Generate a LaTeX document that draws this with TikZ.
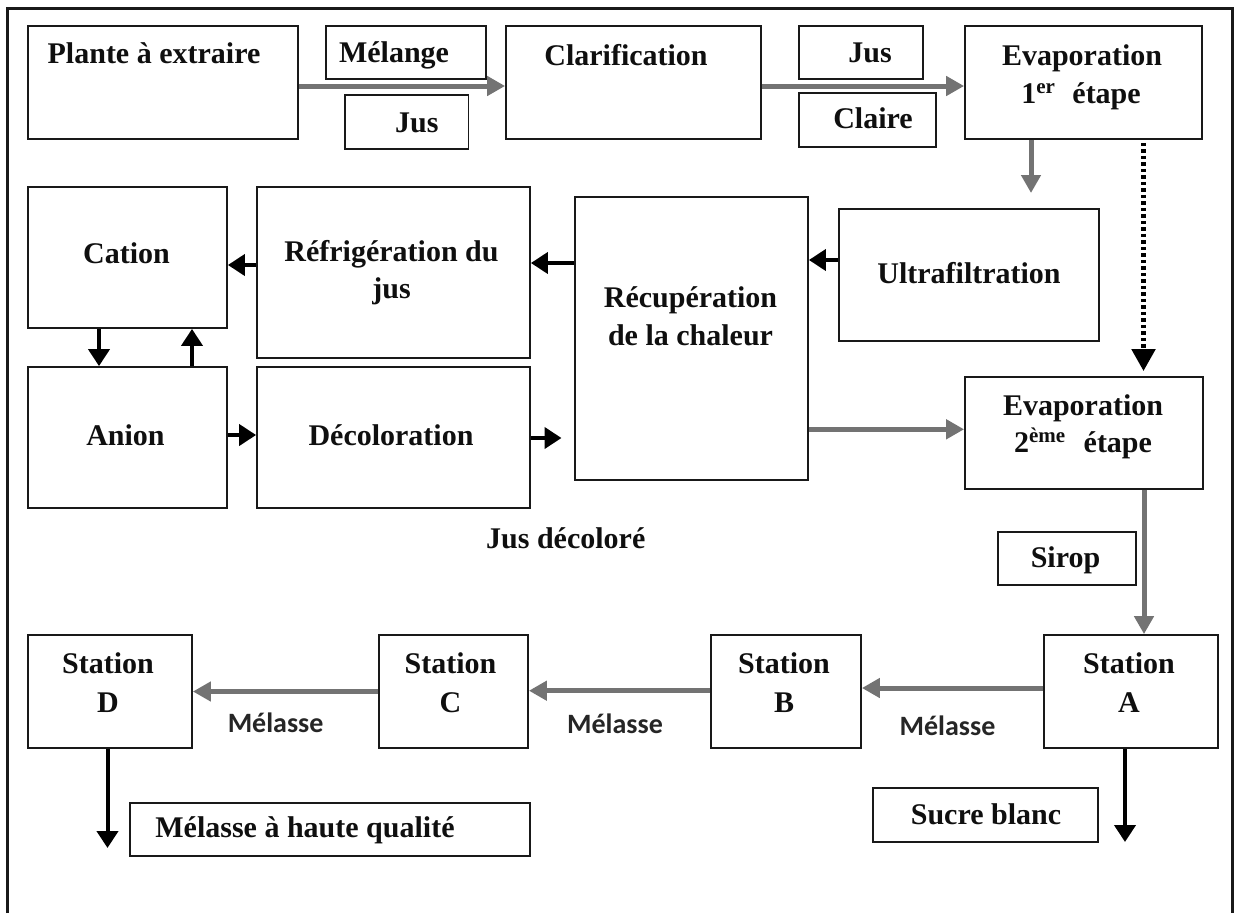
\documentclass[tikz,border=0pt]{standalone}
\usepackage{fontspec}
\setmainfont{Liberation Serif}
\newfontfamily\labelsans{Carlito}
\usetikzlibrary{arrows.meta}
\definecolor{boxline}{gray}{0.1}
\definecolor{flowgray}{gray}{0.45}
\definecolor{inkblack}{gray}{0.06}
\begin{document}
\begin{tikzpicture}[x=1pt,y=-1pt,
  box/.style={draw=boxline, line width=1.8pt, inner sep=0pt, fill=white},
  % zero-height text boxes: the anchor sits on the baseline
  txt/.style={font=\fontsize{30}{36}\selectfont\bfseries, text=inkblack, inner sep=0pt,
    text height=0pt, text depth=0pt},
  side/.style={font=\fontsize{28}{34}\selectfont\labelsans\bfseries, text=black!85, anchor=base, inner sep=0pt},
  garrow/.style={draw=flowgray, line width=5pt, -{Triangle[length=18pt,width=19pt]}},
  barrow/.style={draw=black, line width=4pt, -{Triangle[length=17pt,width=21pt]}},
  darrow/.style={draw=black, line width=5pt, dash pattern=on 3.5pt off 3pt, -{Triangle[length=22pt,width=23pt]}},
]
\fill[white] (0,0) rectangle (1238,913);
\useasboundingbox (0,0) rectangle (1238,913);

% outer frame
\draw[line width=3pt, boxline] (7,913) -- (7,8) -- (1232,8) -- (1232,913);

% top row
\node[box, minimum width=270, minimum height=113,
  label={[txt,xshift=-9pt,yshift=19.5pt]center:Plante à extraire}] (plante) at (163,82.5) {};
\node[box, minimum width=160, minimum height=53,
  label={[txt,xshift=-12pt,yshift=-9.5pt]center:Mélange}] (melange) at (406,52.5) {};
\node[box, minimum width=123.5, minimum height=54,
  label={[txt,xshift=10pt,yshift=-10pt]center:Jus}] (jusA) at (406.75,122) {};
\node[box, minimum width=255, minimum height=113,
  label={[txt,xshift=-7.5pt,yshift=17.5pt]center:Clarification}] (clarif) at (633.5,82.5) {};
\node[box, minimum width=124, minimum height=53,
  label={[txt,xshift=9pt,yshift=-9.5pt]center:Jus}] (jusB) at (861,52.5) {};
\node[box, minimum width=136.6, minimum height=54,
  label={[txt,xshift=5.7pt,yshift=-8pt]center:Claire}] (claire) at (867.3,120) {};
\node[box, minimum width=237, minimum height=113,
  label={[txt,xshift=-1.5pt,yshift=17.5pt]center:Evaporation},
  label={[txt,xshift=-2.5pt,yshift=-20.5pt]center:1\textsuperscript{er}\hspace{17pt}étape}] (evapA) at (1083.5,82.5) {};

% middle rows
\node[box, minimum width=199, minimum height=141,
  label={[txt,xshift=-1pt,yshift=-5.8pt]center:Cation}] (cation) at (127.5,257.5) {};
\node[box, minimum width=273, minimum height=171,
  label={[txt,xshift=-2pt,yshift=10.8pt]center:Réfrigération du},
  label={[txt,xshift=-2pt,yshift=-25.5pt]center:jus}] (refrig) at (393.5,272.5) {};
\node[box, minimum width=233, minimum height=283,
  label={[txt,xshift=-1pt,yshift=31.5pt]center:Récupération},
  label={[txt,xshift=-1pt,yshift=-6.5pt]center:de la chaleur}] (recup) at (691.5,338.5) {};
\node[box, minimum width=260, minimum height=132,
  label={[txt,yshift=-8pt]center:Ultrafiltration}] (ultra) at (969,275) {};
\node[box, minimum width=199, minimum height=141,
  label={[txt,xshift=-2pt,yshift=-7.5pt]center:Anion}] (anion) at (127.5,437.5) {};
\node[box, minimum width=273, minimum height=141,
  label={[txt,xshift=-2.5pt,yshift=-7.5pt]center:Décoloration}] (decol) at (393.5,437.5) {};
\node[box, minimum width=238, minimum height=112,
  label={[txt,xshift=-1pt,yshift=18pt]center:Evaporation},
  label={[txt,xshift=-1pt,yshift=-19pt]center:2\textsuperscript{ème}\hspace{18pt}étape}] (evapB) at (1084,433) {};
\node[txt, anchor=west] (jusdec) at (486,548) {Jus décoloré};
\node[box, minimum width=138, minimum height=53,
  label={[txt,xshift=-1.5pt,yshift=-8.5pt]center:Sirop}] (sirop) at (1067,558.5) {};

% stations
\node[box, minimum width=174, minimum height=113,
  label={[txt,xshift=-2pt,yshift=18.5pt]center:Station},
  label={[txt,xshift=-2pt,yshift=-20.5pt]center:A}] (stA) at (1131,691.5) {};
\node[box, minimum width=150, minimum height=113,
  label={[txt,xshift=-2pt,yshift=18.5pt]center:Station},
  label={[txt,xshift=-2pt,yshift=-20.5pt]center:B}] (stB) at (786,691.5) {};
\node[box, minimum width=149, minimum height=113,
  label={[txt,xshift=-3pt,yshift=18.5pt]center:Station},
  label={[txt,xshift=-3pt,yshift=-20.5pt]center:C}] (stC) at (453.5,691.5) {};
\node[box, minimum width=164, minimum height=113,
  label={[txt,xshift=-2pt,yshift=18.5pt]center:Station},
  label={[txt,xshift=-2pt,yshift=-20.5pt]center:D}] (stD) at (110,691.5) {};

\node[side] (melAB) at (947.5,735) {Mélasse};
\node[side] (melBC) at (615,733) {Mélasse};
\node[side] (melCD) at (275.6,732) {Mélasse};

% products
\node[box, minimum width=400, minimum height=53,
  label={[txt,xshift=-25pt,yshift=-7.5pt]center:Mélasse à haute qualité}] (haute) at (330,829.5) {};
\node[box, minimum width=225, minimum height=54,
  label={[txt,xshift=0.5pt,yshift=-9pt]center:Sucre blanc}] (sucre) at (985.5,815) {};

% free ends of open arrows
\coordinate (ufin) at (1031,193);
\coordinate (dfin) at (561.5,438);
\coordinate (hqfin) at (107.5,848);
\coordinate (sbfin) at (1125,842);

% flows
\draw[garrow] ([yshift=-3.5pt]plante.east) -- ([yshift=-3.5pt]clarif.west);
\draw[garrow] ([yshift=-3.5pt]clarif.east) -- ([yshift=-3.5pt]evapA.west);
\draw[garrow] ([xshift=-52.5pt]evapA.south) -- (ufin);
\draw[darrow, shorten <=3pt, shorten >=5pt] ([xshift=60pt]evapA.south) -- ([xshift=59.5pt]evapB.north);

\draw[barrow] ([yshift=15pt]ultra.west) -- ([yshift=78.5pt]recup.east);
\draw[barrow] ([yshift=75.5pt]recup.west) -- ([yshift=9.5pt]refrig.east);
\draw[barrow] ([yshift=7.5pt]refrig.west) -- ([yshift=-7.5pt]cation.east);
\draw[barrow] ([xshift=-28.5pt]cation.south) -- ([xshift=-28.5pt]anion.north);
\draw[barrow] ([xshift=64.5pt]anion.north) -- ([xshift=64.5pt]cation.south);
\draw[barrow] ([yshift=2.5pt]anion.east) -- ([yshift=2.5pt]decol.west);
\draw[barrow] ([yshift=-0.5pt]decol.east) -- (dfin);

\draw[garrow] ([yshift=-90.8pt]recup.east) -- ([yshift=3.7pt]evapB.west);
\draw[garrow] ([xshift=60pt]evapB.south) -- ([xshift=13pt]stA.north);
\draw[garrow] ([yshift=3.5pt]stA.west) -- ([yshift=3.5pt]stB.east);
\draw[garrow] ([yshift=0.8pt]stB.west) -- ([yshift=0.8pt]stC.east);
\draw[garrow] (stC.west) -- (stD.east);

\draw[barrow] ([xshift=-2.5pt]stD.south) -- (hqfin);
\draw[barrow] ([xshift=-6pt]stA.south) -- (sbfin);
\end{tikzpicture}
\end{document}
